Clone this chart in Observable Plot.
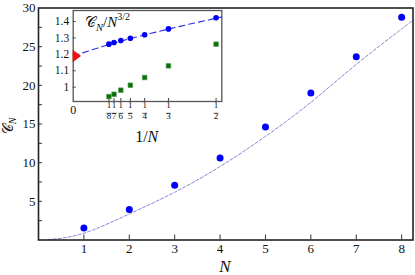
<!DOCTYPE html>
<html><head><meta charset="utf-8">
<script src="https://cdn.jsdelivr.net/npm/d3@7"></script>
<script src="https://cdn.jsdelivr.net/npm/@observablehq/plot@0.6"></script>
<style>
html,body{margin:0;padding:0;background:#fff;}
#wrap{position:relative;width:415px;height:275px;}
#wrap svg{position:absolute;}
</style></head><body><div id="wrap"></div>
<script>
// ---- data ----
const sizes = [1, 2, 3, 4, 5, 6, 7, 8];
const cN = [1.55, 3.96, 7.07, 10.6, 14.6, 19.0, 23.7, 28.8];
const fitN = [0.22, 1, 2, 3, 4, 5, 6, 7, 8, 8.25];
const fitC = [0.05, 0.88, 3.37, 6.17, 9.5, 13.4, 17.8, 22.7, 27.3, 28.4];
const yTickVals = [2.5, 5, 7.5, 10, 12.5, 15, 17.5, 20, 22.5, 25, 27.5];
const yLabelVals = [5, 10, 15, 20, 25, 30];
const xTickVals = [1, 2, 3, 4, 5, 6, 7, 8];

const insetN = [2, 3, 4, 5, 6, 7, 8];
const insetBlue = [1.423, 1.355, 1.319, 1.298, 1.284, 1.272, 1.262];
const insetGreen = [1.262, 1.130, 1.059, 1.012, 0.982, 0.957, 0.943];
const limitX = [0];
const limitY = [1.19];
const insetFitX = [0, 0.1, 0.2, 0.3, 0.4, 0.52];
const insetFitY = [1.19, 1.246, 1.296, 1.340, 1.381, 1.428];
const insetYTicks = [1, 1.1, 1.2, 1.3, 1.4];
const insetXLabelVals = [0];

const SERIF = "Liberation Serif, Times New Roman, serif";
const CALFONT = "DejaVu Serif, DejaVu Sans, serif";
const CAL = "\u{1D49E}";

// ---- main chart ----
const W = 415, H = 275, mL = 38, mR = 2.5, mT = 7.5, mB = 35.5;
const iW = W - mL - mR, iH = H - mT - mB;
const main = Plot.plot({
  width: W, height: H,
  marginLeft: mL, marginRight: mR, marginTop: mT, marginBottom: mB,
  x: {domain: [0, 8.25], label: null},
  y: {domain: [0, 30], label: null},
  style: {fontFamily: SERIF, fontSize: "13px", background: "white", color: "#111"},
  marks: [
    Plot.line(fitN.map((n, i) => ({n, c: fitC[i]})), {x: "n", y: "c", stroke: "#8585d8", strokeWidth: 1, strokeDasharray: "3,2", curve: "natural"}),
    Plot.tickY(yTickVals, {y: d => d, stroke: "#333", strokeWidth: 1, insetRight: iW - 4}),
    Plot.tickX(xTickVals, {x: d => d, stroke: "#333", strokeWidth: 1, insetTop: iH - 5}),
    Plot.axisY({ticks: yLabelVals, tickSize: 0, tickPadding: 3, label: null}),
    Plot.axisX({ticks: xTickVals, tickSize: 0, tickPadding: 4, label: null}),
    Plot.dot(sizes, {x: d => d, y: (d, i) => cN[i], r: 3.5, fill: "#0000fa", stroke: "none"}),
    Plot.frame({stroke: "#222", strokeWidth: 1.6})
  ]
});
const wrap = document.getElementById("wrap");
main.style.left = "0px"; main.style.top = "0px";
wrap.appendChild(main);

const ms = d3.select(main);
ms.append("text").attr("x", 225).attr("y", 272).attr("text-anchor", "middle")
  .attr("font-family", SERIF).attr("font-style", "italic").attr("font-size", 17).attr("fill", "#111").text("N");
const yl = ms.append("text").attr("transform", "translate(13,126) rotate(-90)").attr("text-anchor", "middle")
  .attr("font-family", SERIF).attr("font-size", 14).attr("fill", "#111");
yl.append("tspan").attr("font-family", CALFONT).text(CAL);
yl.append("tspan").attr("dy", 3).attr("font-size", 10).attr("font-style", "italic").text("N");

// ---- inset ----
const IW = 185, IH = 145, imL = 32.7, imR = 3.7, imT = 10, imB = 44;
const iiW = IW - imL - imR, iiH = IH - imT - imB;
const rightTri = {draw(ctx) { ctx.moveTo(-0.5, -6.2); ctx.lineTo(7.8, 0); ctx.lineTo(-0.5, 6.2); ctx.closePath(); }};
const fracBar = {draw(ctx) { ctx.moveTo(-2.4, 0); ctx.lineTo(2.4, 0); }};
const inset = Plot.plot({
  width: IW, height: IH,
  marginLeft: imL, marginRight: imR, marginTop: imT, marginBottom: imB,
  x: {domain: [0, 0.52], label: null},
  y: {domain: [0.913, 1.467], label: null},
  style: {fontFamily: SERIF, fontSize: "11.5px", background: "transparent", overflow: "visible", color: "#111"},
  marks: [
    Plot.frame({fill: "white"}),
    Plot.line(insetFitX.map((x, i) => ({x, y: insetFitY[i]})), {x: "x", y: "y", stroke: "#2a2ae6", strokeWidth: 1.1, strokeDasharray: "6,4", curve: "natural"}),
    Plot.tickY(insetYTicks, {y: d => d, stroke: "#444", strokeWidth: 1, insetRight: iiW - 3}),
    Plot.tickX(insetN, {x: n => 1 / n, stroke: "#444", strokeWidth: 1, insetTop: iiH - 3}),
    Plot.axisY({ticks: insetYTicks, tickSize: 0, tickPadding: 4, tickFormat: d => d === 1 ? "1" : d.toFixed(1), label: null}),
    Plot.axisX({ticks: insetXLabelVals, tickSize: 0, tickPadding: 4, tickFormat: d => String(d), label: null, fontSize: 12}),
    Plot.text(insetN, {x: n => 1 / n, frameAnchor: "bottom", dy: 6.8, text: () => "1", fontSize: 9}),
    Plot.dot(insetN, {x: n => 1 / n, frameAnchor: "bottom", dy: 11.8, symbol: fracBar, fill: "none", stroke: "#222", strokeWidth: 0.7}),
    Plot.text(insetN, {x: n => 1 / n, frameAnchor: "bottom", dy: 17.5, text: n => String(n), fontSize: 9}),
    Plot.dot(insetN, {x: n => 1 / n, y: (n, i) => insetGreen[i], symbol: "square", r: 2.6, fill: "#0b6f0b", stroke: "#4f9a4f", strokeWidth: 0.6}),
    Plot.dot(insetN, {x: n => 1 / n, y: (n, i) => insetBlue[i], r: 2.8, fill: "#0000fa", stroke: "none"}),
    Plot.frame({stroke: "#555", strokeWidth: 1.3}),
    Plot.dot(limitY, {x: (d, i) => limitX[i], y: d => d, symbol: rightTri, fill: "#f01010", stroke: "none"})
  ]
});
inset.style.left = "40px"; inset.style.top = "0px";
wrap.appendChild(inset);

const is = d3.select(inset);
const t = is.append("text").attr("x", 45).attr("y", 27).attr("text-anchor", "start")
  .attr("font-family", SERIF).attr("font-size", 15).attr("fill", "#111");
t.append("tspan").attr("font-family", CALFONT).text(CAL);
t.append("tspan").attr("dy", 3.5).attr("font-size", 10.5).attr("font-style", "italic").text("N");
t.append("tspan").attr("dy", -3.5).text("/");
t.append("tspan").attr("font-style", "italic").text("N");
t.append("tspan").attr("dy", -7).attr("font-size", 10).text("3/2");
const xl = is.append("text").attr("x", 106.7).attr("y", 142).attr("text-anchor", "middle")
  .attr("font-family", SERIF).attr("font-size", 16).attr("fill", "#111");
xl.append("tspan").text("1/");
xl.append("tspan").attr("font-style", "italic").text("N");
</script></body></html>
